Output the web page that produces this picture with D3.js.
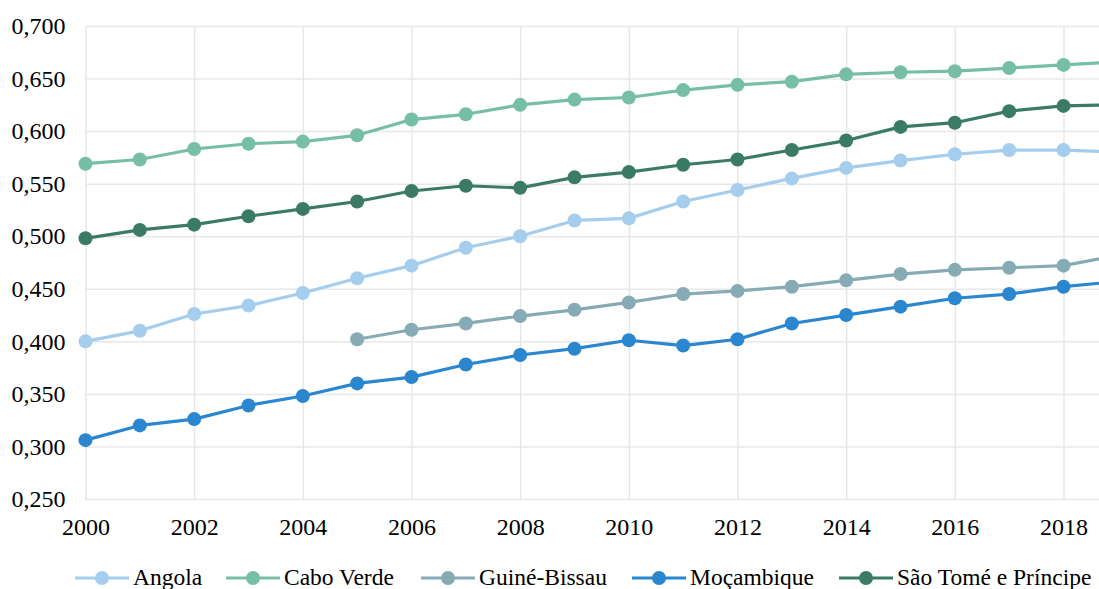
<!DOCTYPE html>
<html>
<head>
<meta charset="utf-8">
<script src="https://cdn.jsdelivr.net/npm/d3@7"></script>
<style>
  html, body { margin: 0; padding: 0; background: #fff; overflow: hidden; }
  svg { display: block; }
  svg text { font-family: "Liberation Serif", "DejaVu Serif", "Times New Roman", Times, serif; fill: #000; }
</style>
</head>
<body>
<div id="plot"></div>
<script>
// data (2019 runs past the right edge)
const years = [2000, 2001, 2002, 2003, 2004, 2005, 2006, 2007, 2008, 2009,
               2010, 2011, 2012, 2013, 2014, 2015, 2016, 2017, 2018, 2019];

const angola = [0.400, 0.410, 0.426, 0.434, 0.446, 0.460, 0.472, 0.489, 0.500, 0.515,
                0.517, 0.533, 0.544, 0.555, 0.565, 0.572, 0.578, 0.582, 0.582, 0.580];
const caboVerde = [0.569, 0.573, 0.583, 0.588, 0.590, 0.596, 0.611, 0.616, 0.625, 0.630,
                   0.632, 0.639, 0.644, 0.647, 0.654, 0.656, 0.657, 0.660, 0.663, 0.666];
const guineBissau = [null, null, null, null, null, 0.402, 0.411, 0.417, 0.424, 0.430,
                     0.437, 0.445, 0.448, 0.452, 0.458, 0.464, 0.468, 0.470, 0.472, 0.482];
const mocambique = [0.306, 0.320, 0.326, 0.339, 0.348, 0.360, 0.366, 0.378, 0.387, 0.393,
                    0.401, 0.396, 0.402, 0.417, 0.425, 0.433, 0.441, 0.445, 0.452, 0.457];
const saoTome = [0.498, 0.506, 0.511, 0.519, 0.526, 0.533, 0.543, 0.548, 0.546, 0.556,
                 0.561, 0.568, 0.573, 0.582, 0.591, 0.604, 0.608, 0.619, 0.624, 0.625];

const seriesNames = ["Angola", "Cabo Verde", "Guiné-Bissau", "Moçambique", "São Tomé e Príncipe"];
const seriesValues = [angola, caboVerde, guineBissau, mocambique, saoTome];
const seriesColors = ["#a4cdee", "#76bea4", "#86abb5", "#2a86ce", "#3b7b66"];

const xTicks = [2000, 2002, 2004, 2006, 2008, 2010, 2012, 2014, 2016, 2018];
const yTicks = [0.25, 0.30, 0.35, 0.40, 0.45, 0.50, 0.55, 0.60, 0.65, 0.70];

const serif = "'Liberation Serif', 'DejaVu Serif', serif";

// dimensions
const w = 1099;
const h = 589;

var margin = {top: 26, right: 0, bottom: 90, left: 85.5},
    innerWidth = w - margin.left - margin.right,
    innerHeight = h - margin.top - margin.bottom;

var svg = d3.select("div#plot")
  .append("svg")
    .attr("width", w)
    .attr("height", h)
  .append("g")
    .attr("transform", `translate (${margin.left}, ${margin.top})`);

// scales: 2000..2018 spans 978px, the plot is cut at the window edge
var xScale = d3.scaleLinear()
  .domain([2000, 2018])
  .range([0, 978]);

var yScale = d3.scaleLinear()
  .domain([0.25, 0.70])
  .range([innerHeight, 0]);

var fmt = d3.formatLocale({decimal: ",", thousands: ".", grouping: [3], currency: ["", ""]}).format(".3f");

// grid
svg.append("g")
  .attr("class", "yGrid")
  .call(d3.axisLeft(yScale).tickValues(yTicks).tickSize(-innerWidth).tickFormat(""))
  .call(g => g.select(".domain").remove())
  .call(g => g.selectAll("line").attr("stroke", "#e8e8e8").attr("stroke-width", 1.5));

svg.append("g")
  .attr("class", "xGrid")
  .attr("transform", `translate (0, ${innerHeight})`)
  .call(d3.axisBottom(xScale).tickValues(xTicks).tickSize(-innerHeight).tickFormat(""))
  .call(g => g.select(".domain").remove())
  .call(g => g.selectAll("line").attr("stroke", "#e8e8e8").attr("stroke-width", 1.5));

// axis labels
svg.append("g")
  .attr("class", "yAxis")
  .call(d3.axisLeft(yScale).tickValues(yTicks).tickSize(0).tickPadding(20).tickFormat(fmt))
  .attr("font-family", serif)
  .attr("font-size", 24)
  .call(g => g.select(".domain").remove());

svg.append("g")
  .attr("class", "xAxis")
  .attr("transform", `translate (0, ${innerHeight})`)
  .call(d3.axisBottom(xScale).tickValues(xTicks).tickSize(0).tickPadding(19).tickFormat(d3.format("d")))
  .attr("font-family", serif)
  .attr("font-size", 24)
  .call(g => g.select(".domain").remove());

// lines and markers
var line = d3.line()
  .defined(d => d.v != null)
  .x(d => xScale(d.year))
  .y(d => yScale(d.v));

seriesValues.forEach(function(vals, i) {
  var pts = years.map((y, j) => ({year: y, v: vals[j]}));

  svg.append("path")
    .datum(pts)
    .attr("fill", "none")
    .attr("stroke", seriesColors[i])
    .attr("stroke-width", 3.2)
    .attr("stroke-linejoin", "round")
    .attr("d", line);

  svg.append("g")
    .selectAll("circle")
    .data(pts.filter(d => d.v != null))
    .enter().append("circle")
      .attr("cx", d => xScale(d.year))
      .attr("cy", d => yScale(d.v))
      .attr("r", 7)
      .style("fill", seriesColors[i]);
});

// legend
var legendX = [75, 226, 421, 632, 839];
var legend = d3.select("svg").append("g")
  .attr("transform", "translate(0, 578)")
  .attr("font-family", serif)
  .attr("font-size", 23.5);

seriesNames.forEach(function(name, i) {
  legend.append("line")
    .attr("x1", legendX[i]).attr("x2", legendX[i] + 54)
    .attr("y1", 0).attr("y2", 0)
    .attr("stroke", seriesColors[i])
    .attr("stroke-width", 3.2);
  legend.append("circle")
    .attr("cx", legendX[i] + 27)
    .attr("cy", 0)
    .attr("r", 7)
    .style("fill", seriesColors[i]);
  legend.append("text")
    .attr("x", legendX[i] + 58)
    .attr("y", 6.5)
    .text(name);
});
</script>
</body>
</html>
